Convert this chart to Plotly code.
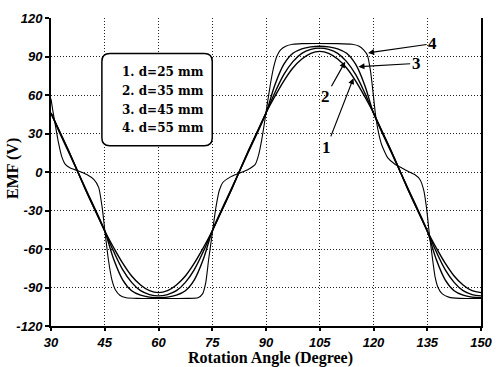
import plotly.graph_objects as go

# ---- data ----
angle = [30, 32.5, 35, 37.5, 40, 42.5, 45, 47.5, 50, 52.5, 55, 57.5, 60, 62.5, 65, 67.5,
         70, 72.5, 75, 77.5, 80, 82.5, 85, 87.5, 90, 92.5, 95, 97.5, 100, 102.5, 105,
         107.5, 110, 112.5, 115, 117.5, 120, 122.5, 125, 127.5, 130, 132.5, 135, 137.5,
         140, 142.5, 145, 147.5, 150]

emf_d25 = [46, 31, 16, 0, -16, -31, -46, -59, -71, -81, -88, -92.5, -94, -92.5, -88, -81,
           -71, -59, -46, -31, -16, 0, 16, 31, 46, 59, 71, 81, 88, 92.5, 94,
           92.5, 88, 81, 71, 59, 46, 31, 16, 0, -16, -31, -46, -59,
           -71, -81, -88, -92.5, -94]

emf_d35 = [46, 31, 16, 0, -16, -31, -46, -62, -76, -86, -92.5, -95.5, -96.5, -95.5, -92.5, -86,
           -76, -62, -46, -31, -16, 0, 16, 31, 46, 62, 76, 86, 92.5, 95.5, 96.5,
           95.5, 92.5, 86, 76, 62, 46, 31, 16, 0, -16, -31, -46, -62,
           -76, -86, -92.5, -95.5, -96.5]

emf_d45 = [46, 30, 15, 0, -15, -30, -46, -68, -84, -92.5, -96, -97.5, -98, -97.5, -96, -92.5,
           -84, -68, -46, -30, -15, 0, 15, 30, 46, 68, 84, 92.5, 96, 97.5, 98,
           97.5, 96, 92.5, 84, 68, 46, 30, 15, 0, -15, -30, -46, -68,
           -84, -92.5, -96, -97.5, -98]

angle_d55 = [30, 30.5, 31, 32, 33, 34, 35.5, 37.5, 40, 42, 43.3, 44.3, 45, 46, 47, 48, 49.2,
             51, 54, 60, 68, 71, 72.3, 73.2, 74, 75, 76, 77, 78, 80, 82.5, 85, 87, 88,
             88.8, 89.5, 90.3, 91.2, 92, 93, 94, 95.5, 97.5, 100, 110, 114, 116, 117.3,
             118.3, 119.2, 119.8, 120.5, 121.3, 122.3, 124, 126, 128, 130, 131.5, 133,
             134, 134.8, 135.5, 136.3, 137.2, 138, 139.2, 141, 144, 150]
emf_d55 = [57, 48, 40, 24, 12, 6, 3, 1, -2, -6, -12, -28, -45, -68, -84, -92, -96,
           -98, -98.5, -98.5, -98.5, -98, -95, -86, -68, -48, -28, -14, -8, -4, -1, 2, 6, 14,
           25, 37, 52, 68, 80, 90, 95, 98, 99.5, 100, 100, 99.5, 98, 95,
           91, 78, 64, 46, 32, 21, 11, 6, 3, 0, -2, -6,
           -14, -28, -46, -64, -82, -90, -95, -97.5, -98.5, -98.5]

legend_labels = ["1. d=25 mm", "2. d=35 mm", "3. d=45 mm", "4. d=55 mm"]
x_ticks = [30, 45, 60, 75, 90, 105, 120, 135, 150]
y_ticks = [-120, -90, -60, -30, 0, 30, 60, 90, 120]

fig = go.Figure()
for xs, ys in [(angle, emf_d25), (angle, emf_d35), (angle, emf_d45)]:
    fig.add_trace(go.Scatter(x=xs, y=ys, mode="lines",
                             line=dict(color="black", width=1.4, shape="spline", smoothing=1.0),
                             showlegend=False, hoverinfo="skip"))
fig.add_trace(go.Scatter(x=angle_d55, y=emf_d55, mode="lines",
                         line=dict(color="black", width=1.1, shape="spline", smoothing=0.5),
                         showlegend=False, hoverinfo="skip"))

tickfont = dict(family="Liberation Sans", size=13, color="black", weight="bold", style="italic")
fig.update_xaxes(range=[30, 150], tickvals=x_ticks, ticktext=[str(v) for v in x_ticks],
                 showgrid=True, gridcolor="#222", gridwidth=1, griddash="1px,2px",
                 showline=True, linecolor="black", linewidth=2, mirror=False,
                 ticks="outside", ticklen=3, tickcolor="black", tickwidth=1.5,
                 ticklabelstandoff=0,
                 zeroline=False, tickfont=tickfont)
fig.update_yaxes(range=[-120, 120], tickvals=y_ticks, ticktext=[str(v) for v in y_ticks],
                 showgrid=True, gridcolor="#222", gridwidth=1, griddash="1px,2px",
                 showline=True, linecolor="black", linewidth=2, mirror=True,
                 ticks="outside", ticklen=4, tickcolor="black", tickwidth=1.5,
                 zeroline=False, tickfont=tickfont)

# legend box (rounded)
x0, x1, y0, y1 = 44.2, 75.0, 20.4, 92.3
rx, ry = 2.2, 6.2
path = (f"M {x0+rx},{y1} L {x1-rx},{y1} Q {x1},{y1} {x1},{y1-ry} "
        f"L {x1},{y0+ry} Q {x1},{y0} {x1-rx},{y0} L {x0+rx},{y0} "
        f"Q {x0},{y0} {x0},{y0+ry} L {x0},{y1-ry} Q {x0},{y1} {x0+rx},{y1} Z")
fig.add_shape(type="path", path=path, xref="x", yref="y",
              line=dict(color="black", width=1.5), fillcolor="white", layer="above")

serif = "Liberation Serif"
for label, yy in zip(legend_labels, [78.2, 63.5, 48.7, 34.2]):
    fig.add_annotation(x=49.2, y=yy, text=label, showarrow=False, xanchor="left",
                       yanchor="middle", xref="x", yref="y",
                       font=dict(family="DejaVu Serif", size=12, color="black", weight="bold"))

# numbered arrows
arrows = [("4", 118.5, 92.8, 136.5, 100.0),
          ("3", 115.8, 82.1, 131.9, 84.6),
          ("2", 112.1, 85.9, 106.6, 58.5),
          ("1", 114.4, 73.1, 106.9, 19.2)]
for txt, hx, hy, tx, ty in arrows:
    fig.add_annotation(x=hx, y=hy, ax=tx, ay=ty, xref="x", yref="y", axref="x", ayref="y",
                       text=txt, showarrow=True, arrowhead=2, arrowsize=1, arrowwidth=1.2,
                       arrowcolor="black", standoff=0,
                       font=dict(family=serif, size=17, color="black", weight="bold"))

# axis titles
fig.add_annotation(x=0.51, y=-0.103, xref="paper", yref="paper", text="Rotation Angle (Degree)",
                   showarrow=False, xanchor="center", yanchor="middle",
                   font=dict(family=serif, size=16, color="black", weight="bold"))
fig.add_annotation(x=-0.0883, y=0.51, xref="paper", yref="paper", text="EMF (V)",
                   showarrow=False, xanchor="center", yanchor="middle", textangle=-90,
                   font=dict(family=serif, size=16, color="black", weight="bold"))

fig.update_layout(width=504, height=367, margin=dict(l=51, r=11, t=14, b=41),
                  plot_bgcolor="white", paper_bgcolor="white", showlegend=False)
fig.write_html("out.html", config={"displayModeBar": False},
               post_script="document.body.style.margin='0';document.body.style.padding='0';")
